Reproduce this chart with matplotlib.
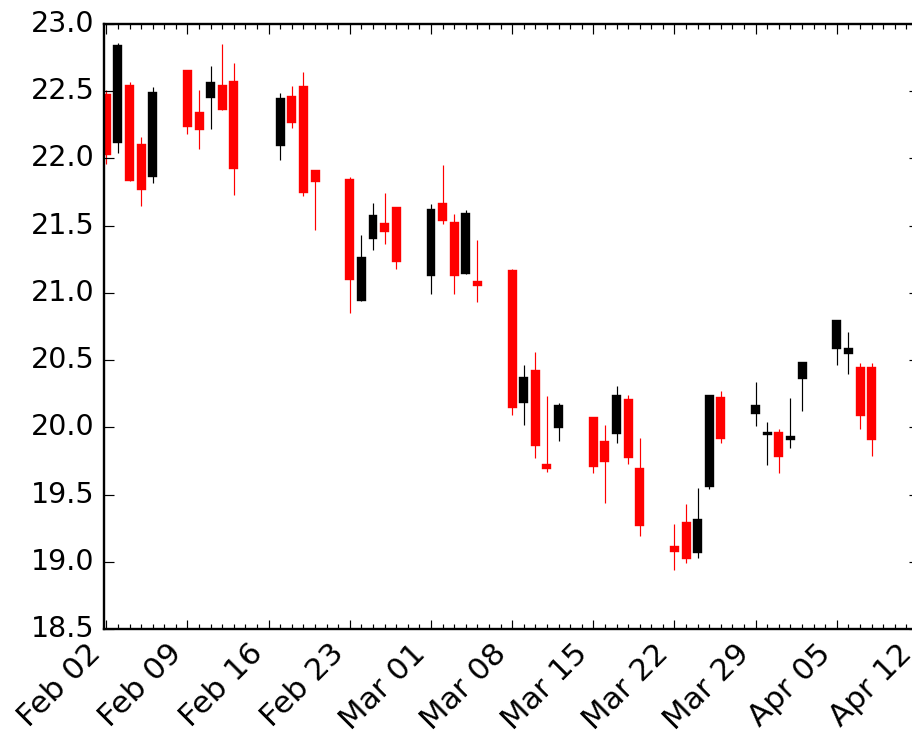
import numpy as np
import pandas as pd
import matplotlib
matplotlib.use('Agg')
import matplotlib.pyplot as plt
import matplotlib.dates as mdates
from matplotlib.ticker import MultipleLocator

# Daily quotes, Feb - Apr 2004
dates = ['2004-02-02', '2004-02-03', '2004-02-04', '2004-02-05', '2004-02-06',
         '2004-02-09', '2004-02-10', '2004-02-11', '2004-02-12', '2004-02-13',
         '2004-02-17', '2004-02-18', '2004-02-19', '2004-02-20',
         '2004-02-23', '2004-02-24', '2004-02-25', '2004-02-26', '2004-02-27',
         '2004-03-01', '2004-03-02', '2004-03-03', '2004-03-04', '2004-03-05',
         '2004-03-08', '2004-03-09', '2004-03-10', '2004-03-11', '2004-03-12',
         '2004-03-15', '2004-03-16', '2004-03-17', '2004-03-18', '2004-03-19',
         '2004-03-22', '2004-03-23', '2004-03-24', '2004-03-25', '2004-03-26',
         '2004-03-29', '2004-03-30', '2004-03-31', '2004-04-01', '2004-04-02',
         '2004-04-05', '2004-04-06', '2004-04-07', '2004-04-08']

opens = [22.47, 22.12, 22.54, 22.10, 21.87,
         22.65, 22.34, 22.46, 22.54, 22.57,
         22.10, 22.46, 22.53, 21.91,
         21.84, 20.95, 21.41, 21.51, 21.63,
         21.13, 21.66, 21.52, 21.15, 21.08,
         21.16, 20.19, 20.42, 19.72, 20.00,
         20.07, 19.89, 19.96, 20.20, 19.69,
         19.11, 19.29, 19.07, 19.56, 20.22,
         20.11, 19.95, 19.96, 19.91, 20.37,
         20.59, 20.55, 20.44, 20.44]
highs = [22.51, 22.86, 22.57, 22.16, 22.53,
         22.65, 22.51, 22.69, 22.85, 22.71,
         22.49, 22.54, 22.64, 21.91,
         21.86, 21.43, 21.67, 21.74, 21.64,
         21.66, 21.95, 21.59, 21.62, 21.39,
         21.18, 20.46, 20.56, 20.23, 20.18,
         20.08, 20.02, 20.31, 20.24, 19.92,
         19.28, 19.43, 19.55, 20.24, 20.27,
         20.34, 20.04, 19.99, 20.22, 20.48,
         20.79, 20.71, 20.48, 20.48]
lows = [21.96, 22.04, 21.83, 21.65, 21.82,
        22.18, 22.07, 22.22, 22.36, 21.73,
        21.99, 22.23, 21.72, 21.47,
        20.85, 20.94, 21.32, 21.36, 21.18,
        20.99, 21.51, 20.99, 21.14, 20.93,
        20.09, 20.02, 19.77, 19.67, 19.90,
        19.66, 19.44, 19.88, 19.73, 19.19,
        18.94, 18.99, 19.03, 19.54, 19.88,
        20.01, 19.72, 19.66, 19.85, 20.12,
        20.46, 20.40, 19.99, 19.79]
closes = [22.03, 22.84, 21.84, 21.77, 22.49,
          22.24, 22.22, 22.56, 22.37, 21.93,
          22.44, 22.27, 21.75, 21.83,
          21.10, 21.26, 21.57, 21.46, 21.24,
          21.62, 21.54, 21.13, 21.59, 21.06,
          20.15, 20.37, 19.87, 19.70, 20.16,
          19.71, 19.75, 20.23, 19.78, 19.27,
          19.08, 19.03, 19.31, 20.23, 19.92,
          20.16, 19.96, 19.79, 19.93, 20.48,
          20.79, 20.58, 20.09, 19.91]

plt.style.use('classic')

fig = plt.figure(figsize=(912 / 171, 734 / 171), dpi=171, facecolor='white')
ax = fig.add_axes([104 / 912, 105 / 734, 814 / 912, 605 / 734])

x = mdates.date2num(pd.to_datetime(dates))
o = np.array(opens)
c = np.array(closes)
colors = np.where(c >= o, 'k', 'r')

# wicks then bodies (up = black, down = red)
ax.vlines(x, lows, highs, colors=colors, linewidth=0.5)
ax.bar(x, np.abs(c - o), bottom=np.minimum(o, c), width=0.6,
       color=colors, edgecolor=colors, linewidth=1.0, align='center')

ax.xaxis.set_major_locator(mdates.WeekdayLocator(mdates.MONDAY))
ax.xaxis.set_minor_locator(mdates.DayLocator())
ax.xaxis.set_major_formatter(mdates.DateFormatter('%b %d'))
ax.set_xlim(x[0] - 0.2, mdates.date2num(pd.Timestamp('2004-04-12')))
ax.set_ylim(18.5, 23.0)
ax.yaxis.set_major_locator(MultipleLocator(0.5))
ax.tick_params(axis='x', which='major', labelsize=13)
plt.setp(ax.get_xticklabels(), rotation=45, horizontalalignment='right')

fig.savefig('out.png', dpi=171, facecolor='white')
